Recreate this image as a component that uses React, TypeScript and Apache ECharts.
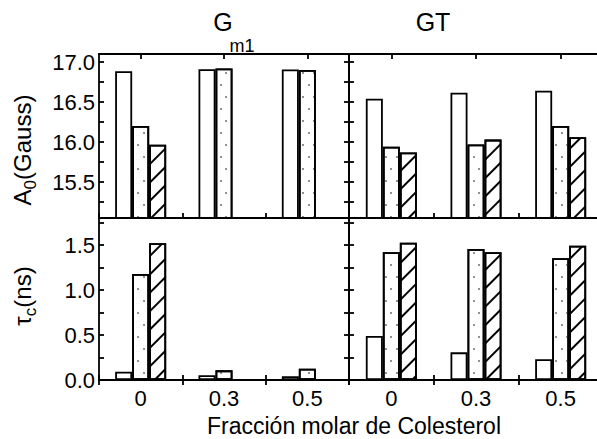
import React, { useEffect, useRef } from "react";
import * as echarts from "echarts";

const categories = ["0", "0.3", "0.5"];

// A0 (Gauss)
const gm1A0White = [16.885, 16.91, 16.906];
const gm1A0Dotted = [16.2, 16.92, 16.9];
const gm1A0Hatched: (number | null)[] = [15.965, null, null];
const gtA0White = [16.54, 16.615, 16.64];
const gtA0Dotted = [15.94, 15.97, 16.2];
const gtA0Hatched = [15.87, 16.03, 16.06];

// tau_c (ns)
const gm1TauWhite = [0.093, 0.052, 0.041];
const gm1TauDotted = [1.178, 0.107, 0.126];
const gm1TauHatched: (number | null)[] = [1.519, null, null];
const gtTauWhite = [0.489, 0.307, 0.23];
const gtTauDotted = [1.419, 1.455, 1.352];
const gtTauHatched = [1.526, 1.419, 1.493];

const a0Labels = [15.5, 16.0, 16.5, 17.0];
const a0Ticks = [15.25, 15.5, 15.75, 16.0, 16.25, 16.5, 16.75, 17.0];
const tauLabels = [0.0, 0.5, 1.0, 1.5];
const tauTicks = [0.25, 0.5, 0.75, 1.0, 1.25, 1.5, 1.75];

const FONT = "'Liberation Sans', Arial, sans-serif";

export default function App() {
  const ref = useRef<HTMLDivElement>(null);
  useEffect(() => {
    if (!ref.current) return;
    const chart = echarts.init(ref.current, undefined, { renderer: "svg" });

    const grids = [
      { left: 99, top: 54, width: 250, height: 164 },
      { left: 349, top: 54, width: 254, height: 164 },
      { left: 99, top: 218, width: 250, height: 162 },
      { left: 349, top: 218, width: 254, height: 162 },
    ];
    const line = { color: "#000", width: 1.8 };

    const xAxis: any[] = [];
    const yAxis: any[] = [];
    grids.forEach((_, i) => {
      xAxis.push({
        type: "category",
        gridIndex: i,
        data: categories,
        position: "bottom",
        axisLine: { show: true, lineStyle: line },
        axisTick: { show: true, inside: true, length: 5, alignWithLabel: false, lineStyle: line },
        axisLabel: { show: i >= 2, fontSize: 22, color: "#000", fontFamily: FONT, margin: 7 },
        splitLine: { show: false },
      });
      xAxis.push({
        type: "category",
        gridIndex: i,
        data: categories,
        position: "top",
        axisLine: { show: true, lineStyle: line },
        axisTick: { show: true, inside: true, length: 5, alignWithLabel: i < 2, lineStyle: line },
        axisLabel: { show: false },
        splitLine: { show: false },
      });
      const isTop = i < 2;
      const base = {
        type: "value",
        gridIndex: i,
        min: isTop ? 15.05 : 0,
        max: isTop ? 17.1 : 1.8,
        axisLine: { show: true, lineStyle: line },
        splitLine: { show: false },
      };
      yAxis.push({
        ...base,
        position: "left",
        axisTick: { show: true, inside: true, length: 5, lineStyle: line, customValues: isTop ? a0Ticks : tauTicks },
        axisLabel: {
          show: i % 2 === 0,
          customValues: isTop ? a0Labels : tauLabels,
          formatter: (v: number) => v.toFixed(1),
          fontSize: 22,
          color: "#000",
          fontFamily: FONT,
          margin: 4,
        },
      });
      yAxis.push({
        ...base,
        position: "right",
        axisTick: { show: true, inside: true, length: 5, lineStyle: line, customValues: isTop ? a0Ticks : tauTicks },
        axisLabel: { show: false },
      });
    });

    const dotDecal = {
      symbol: "circle",
      symbolSize: 0.8,
      color: "#555",
      dashArrayX: [[2, 9], [0, 5, 2, 4]],
      dashArrayY: [2, 10],
      rotation: 0,
    };
    const hatchDecal = {
      symbol: "rect",
      symbolSize: 1,
      color: "#000",
      dashArrayX: [1, 0],
      dashArrayY: [1.4, 10.6],
      rotation: -Math.PI / 4,
    };

    const mk = (data: (number | null)[], gi: number, kind: string) => ({
      type: "bar",
      xAxisIndex: gi * 2,
      yAxisIndex: gi * 2,
      data,
      barWidth: 17,
      barGap: "0%",
      itemStyle: {
        color: "#fff",
        borderColor: "#000",
        borderWidth: 1.8,
        decal: kind === "dot" ? dotDecal : kind === "hatch" ? hatchDecal : undefined,
      },
    });

    const series = [
      mk(gm1A0White, 0, "white"),
      mk(gm1A0Dotted, 0, "dot"),
      mk(gm1A0Hatched, 0, "hatch"),
      mk(gtA0White, 1, "white"),
      mk(gtA0Dotted, 1, "dot"),
      mk(gtA0Hatched, 1, "hatch"),
      mk(gm1TauWhite, 2, "white"),
      mk(gm1TauDotted, 2, "dot"),
      mk(gm1TauHatched, 2, "hatch"),
      mk(gtTauWhite, 3, "white"),
      mk(gtTauDotted, 3, "dot"),
      mk(gtTauHatched, 3, "hatch"),
    ];

    const txt = (text: string, x: number, y: number, fontSize: number, extra: any = {}) => ({
      type: "text",
      x,
      y,
      z: 100,
      style: { text, fontSize, fontFamily: FONT, fill: "#000", align: "center", verticalAlign: "middle", ...extra },
    });

    const rich = {
      a: { fontSize: 24, fontFamily: FONT, fill: "#000" },
      s: { fontSize: 17, fontFamily: FONT, fill: "#000", padding: [16, 0, 0, 0] },
    };

    chart.setOption({
      animation: false,
      backgroundColor: "#fff",
      grid: grids.map((g) => ({ ...g, containLabel: false, outerBoundsMode: "none" })),
      xAxis,
      yAxis,
      series,
      graphic: [
        txt("G", 223, 22, 25),
        txt("m1", 242, 46, 18),
        txt("GT", 433, 22, 25),
        txt("Fracción molar de Colesterol", 354, 426, 23),
        {
          type: "text",
          x: 22,
          y: 150,
          rotation: Math.PI / 2,
          style: { text: "{a|A}{s|0}{a|(Gauss)}", align: "center", verticalAlign: "middle", fill: "#000", rich },
        },
        {
          type: "text",
          x: 22,
          y: 296,
          rotation: Math.PI / 2,
          style: { text: "{a|τ}{s|c}{a|(ns)}", align: "center", verticalAlign: "middle", fill: "#000", rich },
        },
      ],
    });
    return () => chart.dispose();
  }, []);
  return <div ref={ref} style={{ position: "fixed", left: 0, top: 0, width: 597, height: 439 }} />;
}
